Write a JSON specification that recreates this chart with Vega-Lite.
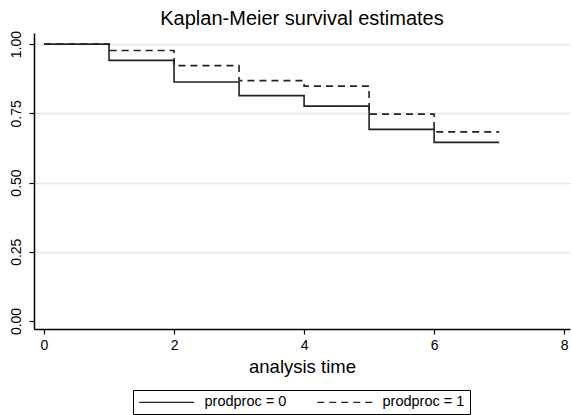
{
  "$schema": "https://vega.github.io/schema/vega-lite/v6.json",
  "autosize": {"type": "none"},
  "padding": {"left": 34, "top": 33, "right": 2, "bottom": 86},
  "width": 536,
  "height": 296,
  "background": "white",
  "config": {
    "font": "Liberation Sans",
    "view": {"stroke": null},
    "axis": {"domainColor": "#000000", "tickColor": "#000000", "labelColor": "#000000", "titleColor": "#000000", "domainWidth": 1.5, "tickWidth": 1.2, "tickSize": 5, "labelFont": "Liberation Sans", "titleFont": "Liberation Sans", "titleFontWeight": "normal"}
  },
  "title": {"text": "Kaplan-Meier survival estimates", "fontSize": 20, "fontWeight": "normal", "color": "#000000", "offset": 1, "font": "Liberation Sans"},
  "data": {
    "values": [
      {"t": 0, "s": 1.0, "g": "prodproc = 0"},
      {"t": 1, "s": 0.941, "g": "prodproc = 0"},
      {"t": 2, "s": 0.863, "g": "prodproc = 0"},
      {"t": 3, "s": 0.814, "g": "prodproc = 0"},
      {"t": 4, "s": 0.776, "g": "prodproc = 0"},
      {"t": 5, "s": 0.692, "g": "prodproc = 0"},
      {"t": 6, "s": 0.645, "g": "prodproc = 0"},
      {"t": 7, "s": 0.645, "g": "prodproc = 0"},
      {"t": 0, "s": 1.0, "g": "prodproc = 1"},
      {"t": 1, "s": 0.977, "g": "prodproc = 1"},
      {"t": 2, "s": 0.922, "g": "prodproc = 1"},
      {"t": 3, "s": 0.868, "g": "prodproc = 1"},
      {"t": 4, "s": 0.848, "g": "prodproc = 1"},
      {"t": 5, "s": 0.747, "g": "prodproc = 1"},
      {"t": 6, "s": 0.683, "g": "prodproc = 1"},
      {"t": 7, "s": 0.683, "g": "prodproc = 1"}
    ]
  },
  "mark": {"type": "line", "interpolate": "step-after", "color": "#222222", "strokeWidth": 1.6},
  "encoding": {
    "x": {
      "field": "t", "type": "quantitative",
      "scale": {"domain": [-0.154, 8.09], "nice": false, "zero": false},
      "axis": {"values": [0, 2, 4, 6, 8], "grid": false, "title": "analysis time", "titleFontSize": 18.5, "titlePadding": 5, "labelFontSize": 14, "labelPadding": 4, "labelFlush": false}
    },
    "y": {
      "field": "s", "type": "quantitative",
      "scale": {"domain": [-0.029, 1.04], "nice": false, "zero": false},
      "axis": {"values": [0, 0.25, 0.5, 0.75, 1], "format": ".2f", "title": null, "labelAngle": -90, "labelAlign": "center", "labelBaseline": "bottom", "labelFontSize": 14, "labelPadding": 6, "grid": true, "gridColor": {"condition": {"test": "datum.value === 0", "value": "transparent"}, "value": "#e6e6e6"}, "gridWidth": 1.5}
    },
    "strokeDash": {
      "field": "g", "type": "nominal",
      "scale": {"domain": ["prodproc = 0", "prodproc = 1"], "range": [[1, 0], [7, 5]]},
      "legend": {
        "title": null, "orient": "none", "legendX": 99, "legendY": 357,
        "direction": "horizontal", "columns": 2,
        "symbolType": "M-1,0H8.17", "symbolSize": 144, "symbolStrokeWidth": 1.4, "symbolStrokeColor": "#222222",
        "labelFontSize": 14.5, "labelColor": "#000000", "labelOffset": 52, "columnPadding": 27,
        "strokeColor": "#000000", "padding": 5, "fillColor": "white"
      }
    }
  }
}
